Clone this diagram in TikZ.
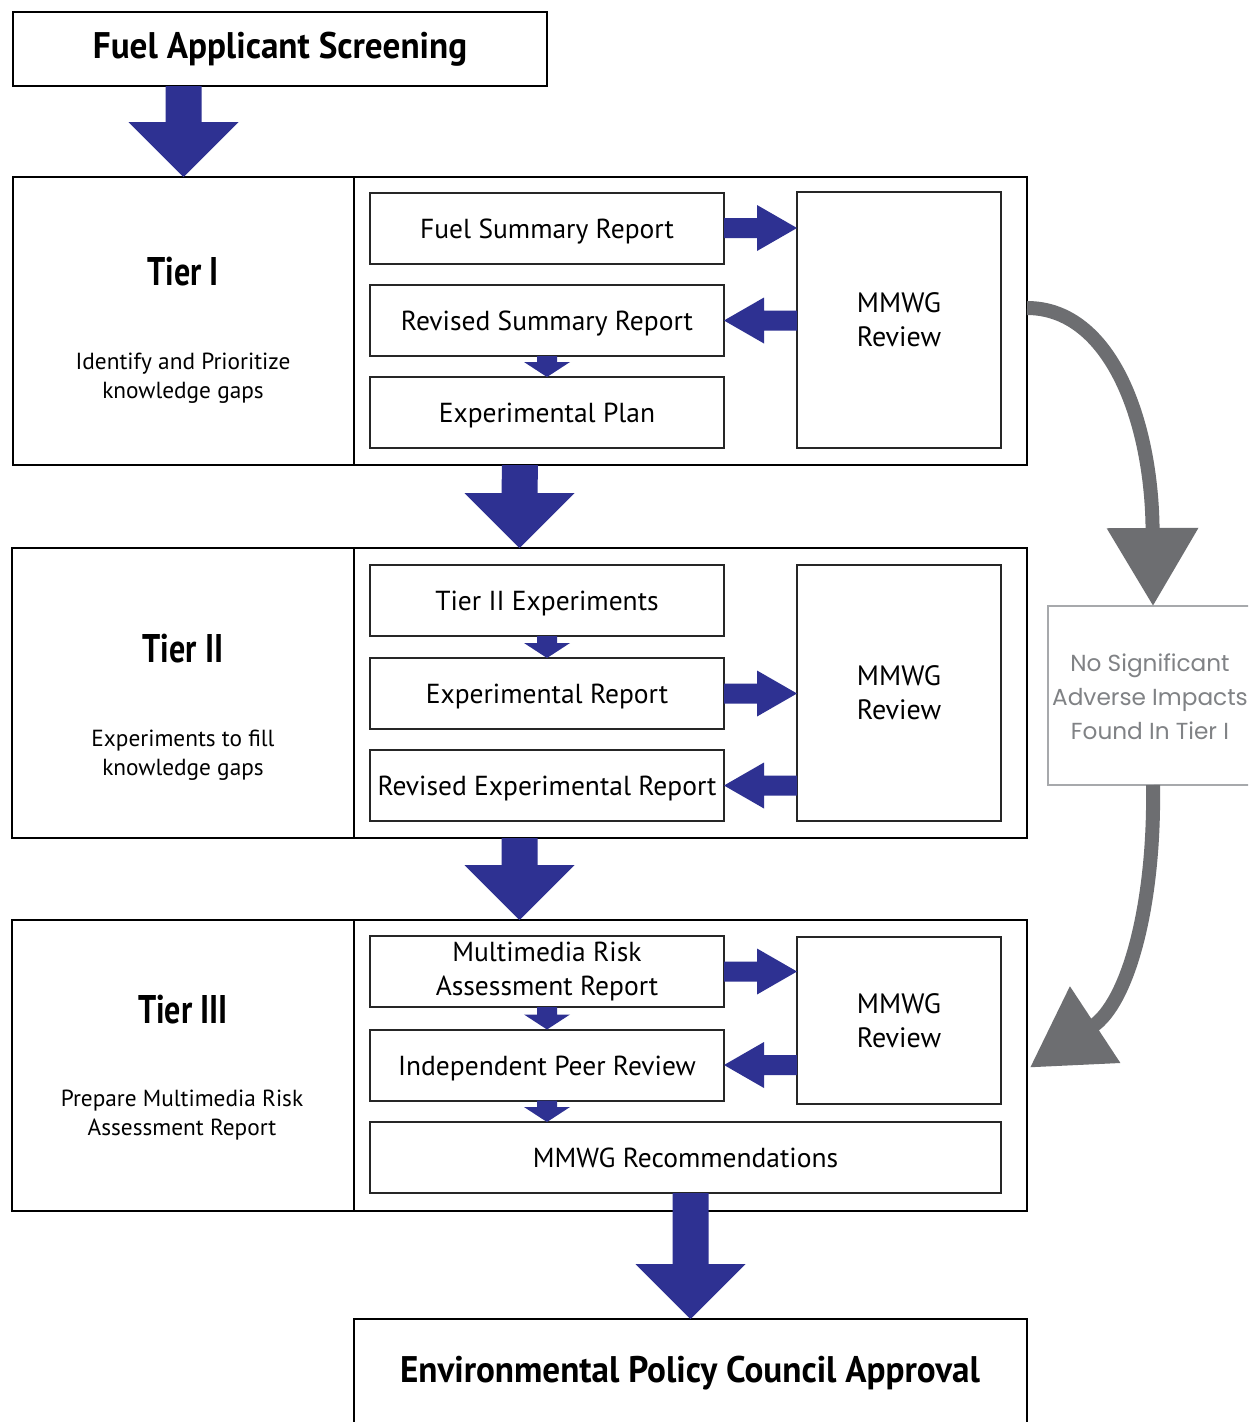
\documentclass[tikz,border=0pt]{standalone}
\usepackage{fontspec}
\setmainfont{PT Sans}
\newfontfamily\gothicfont{Poppins}
\newfontfamily\tierfont[FakeStretch=0.8]{PT Sans}
\newfontfamily\headfont[FakeStretch=0.95]{PT Sans}
\usetikzlibrary{calc,arrows.meta}
\definecolor{arrowblue}{HTML}{2E3192}
\definecolor{arrowgrey}{HTML}{6D6E71}
\definecolor{boxgrey}{HTML}{A7A9AC}
\definecolor{textgrey}{HTML}{808285}
% block arrows: start, tip, half shaft, half head, head length
\newcommand\BlockDown[5]{\fill[arrowblue] ($(#1)+(-#3,0)$) -- ($(#2)+(-#3,-#5)$) -- ($(#2)+(-#4,-#5)$) -- (#2) -- ($(#2)+(#4,-#5)$) -- ($(#2)+(#3,-#5)$) -- ($(#1)+(#3,0)$) -- cycle;}
\newcommand\BlockRight[5]{\fill[arrowblue] ($(#1)+(0,-#3)$) -- ($(#2)+(-#5,-#3)$) -- ($(#2)+(-#5,-#4)$) -- (#2) -- ($(#2)+(-#5,#4)$) -- ($(#2)+(-#5,#3)$) -- ($(#1)+(0,#3)$) -- cycle;}
\newcommand\BlockLeft[5]{\fill[arrowblue] ($(#1)+(0,-#3)$) -- ($(#2)+(#5,-#3)$) -- ($(#2)+(#5,-#4)$) -- (#2) -- ($(#2)+(#5,#4)$) -- ($(#2)+(#5,#3)$) -- ($(#1)+(0,#3)$) -- cycle;}
\begin{document}
\begin{tikzpicture}[x=1pt,y=-1pt,
  every node/.style={outer sep=0pt, inner sep=2pt},
  topbox/.style={draw=black, line width=2pt, font=\headfont\fontsize{37}{40}\selectfont\bfseries},
  tierbox/.style={draw=black, line width=2.5pt},
  innerbox/.style={draw=black!85, line width=2pt, fill=white, minimum width=354pt, minimum height=71pt, align=center, font=\fontsize{27.5}{34}\selectfont},
  oneline/.style={text height=20pt, text depth=0pt},
  reviewbox/.style={draw=black!85, line width=2pt, fill=white, minimum width=204pt, align=center, font=\fontsize{28}{34}\selectfont},
  tiertitle/.style={font=\tierfont\fontsize{40}{44}\selectfont\bfseries},
  tiersub/.style={align=center, font=\fontsize{23.3}{29}\selectfont},
  greybox/.style={draw=boxgrey, line width=1.5pt, minimum width=210pt, minimum height=179pt},
  greytext/.style={text=textgrey, align=center, font=\gothicfont\fontsize{23.2}{34}\selectfont},
  greyarrow/.style={draw=arrowgrey, line width=14pt, -{Triangle[length=78pt,width=88pt]}}
]
\useasboundingbox (0,0) rectangle (1248,1422);
\clip (0,0) rectangle (1248,1422);
\fill[white] (0,0) rectangle (1248,1422);

% top
\node[topbox, minimum width=534pt, minimum height=74pt] (screen) at (280,49) {Fuel Applicant Screening};

% Tier I
\node[tierbox, minimum width=1014pt, minimum height=288pt] (t1) at (520,321) {};
\node[tierbox, minimum width=341pt, minimum height=288pt] (t1l) at (183.5,321) {};
\node[tiertitle] (t1title) at (183,272) {Tier I};
\node[tiersub] (t1sub) at (183,378) {Identify and Prioritize\\knowledge gaps};
\node[innerbox, oneline] (fsr) at (547,228) {Fuel Summary Report};
\node[innerbox, oneline] (rsr) at (547,320.5) {Revised Summary Report};
\node[innerbox, oneline] (ep) at (547,412.5) {Experimental Plan};
\node[reviewbox, minimum height=256pt] (m1) at (899,320) {MMWG\\Review};

% Tier II
\node[tierbox, minimum width=1015pt, minimum height=290pt] (t2) at (519.5,693) {};
\node[tierbox, minimum width=342pt, minimum height=290pt] (t2l) at (183,693) {};
\node[tiertitle] (t2title) at (183,649) {Tier II};
\node[tiersub] (t2sub) at (183,755) {Experiments to fill\\knowledge gaps};
\node[innerbox, oneline] (t2e) at (547,600.5) {Tier II Experiments};
\node[innerbox, oneline] (er) at (547,693.5) {Experimental Report};
\node[innerbox, oneline] (rer) at (547,785.5) {Revised Experimental Report};
\node[reviewbox, minimum height=256pt] (m2) at (899,693) {MMWG\\Review};

% Tier III
\node[tierbox, minimum width=1015pt, minimum height=291pt] (t3) at (519.5,1065.5) {};
\node[tierbox, minimum width=342pt, minimum height=291pt] (t3l) at (183,1065.5) {};
\node[tiertitle] (t3title) at (183,1010) {Tier III};
\node[tiersub] (t3sub) at (182,1115) {Prepare Multimedia Risk\\Assessment Report};
\node[innerbox] (mrar) at (547,971.5) {Multimedia Risk\\Assessment Report};
\node[innerbox, oneline] (ipr) at (547,1065) {Independent Peer Review};
\node[innerbox, oneline, minimum width=631pt] (rec) at (685.5,1157.5) {MMWG Recommendations};
\node[reviewbox, minimum height=167pt] (m3) at (899,1020.5) {MMWG\\Review};

% bottom
\node[draw=black, line width=2.5pt, minimum width=673pt, minimum height=140pt] (epc) at (690.5,1389) {};
\node[font=\headfont\fontsize{37}{40}\selectfont\bfseries] (epctext) at (690,1373) {Environmental Policy Council Approval};

% grey box
\node[greybox] (gbox) at (1153,695.5) {};
\node[greytext] (gtext) at (1150,697) {No Significant\\Adverse Impacts\\Found In Tier I};

% big down arrows
\coordinate (b1s) at (screen.south -| t1l.north);
\BlockDown{b1s}{t1l.north}{18}{55}{55}
\coordinate (b2s) at (t1.south);
\BlockDown{b2s}{t2.north}{18}{55}{55}
\coordinate (b3s) at (t2.south);
\BlockDown{b3s}{t3.north}{18}{55}{55}
\coordinate (b4s) at (epc.north |- rec.south);
\BlockDown{b4s}{epc.north}{18}{55}{55}

% small down arrows
\BlockDown{rsr.south}{ep.north}{10}{23}{15}
\BlockDown{t2e.south}{er.north}{10}{23}{15}
\coordinate (s3s) at (ipr.north |- mrar.south);
\BlockDown{s3s}{ipr.north}{10}{23}{15}
\coordinate (s4t) at (ipr.south |- rec.north);
\BlockDown{ipr.south}{s4t}{10}{23}{15}

% horizontal arrows
\coordinate (h1t) at (m1.west |- fsr.east);
\BlockRight{fsr.east}{h1t}{10}{23}{40}
\coordinate (h2s) at (m1.west |- rsr.east);
\BlockLeft{h2s}{rsr.east}{10}{23}{40}
\coordinate (h3t) at (m2.west |- er.east);
\BlockRight{er.east}{h3t}{10}{23}{40}
\coordinate (h4s) at (m2.west |- rer.east);
\BlockLeft{h4s}{rer.east}{10}{23}{40}
\coordinate (h5t) at (m3.west |- mrar.east);
\BlockRight{mrar.east}{h5t}{10}{23}{40}
\coordinate (h6s) at (m3.west |- ipr.east);
\BlockLeft{h6s}{ipr.east}{10}{23}{40}

% grey curved arrows
\coordinate (g1s) at ($(t1.east)+(0,-13)$);
\draw[greyarrow] (g1s) .. controls (1110,308) and (1152,420) .. (gbox.north);
\coordinate (g2t) at ($(t3.east)+(3,2)$);
\draw[greyarrow] (gbox.south) .. controls (1155,905) and (1128,1003) .. (g2t);
\end{tikzpicture}
\end{document}
